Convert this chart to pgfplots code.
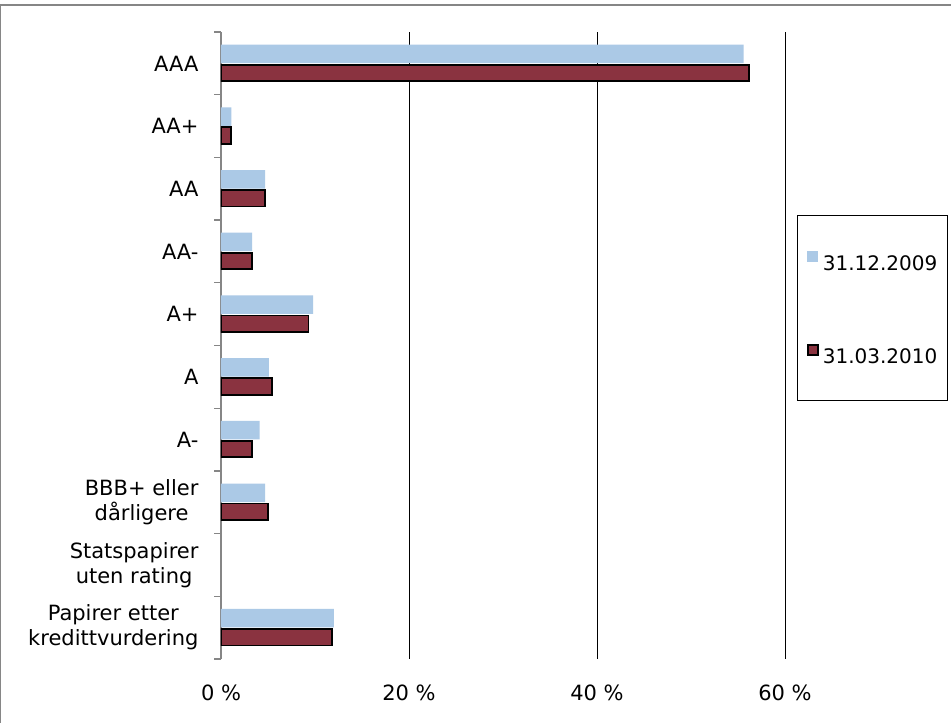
\documentclass[border=0pt]{standalone}
\usepackage{pgfplots}
\pgfplotsset{compat=1.18}
\usepackage{fontspec}
\setmainfont{DejaVu Sans}
\definecolor{lyseblaa}{HTML}{ABC9E6}
\definecolor{vinrod}{HTML}{8A3340}
\definecolor{rammegraa}{HTML}{868686}

\begin{document}
\begin{tikzpicture}
\path[use as bounding box] (0,0) rectangle (951pt,723pt);
\fill[white] (0,0) rectangle (951pt,723pt);
\draw[rammegraa, line width=1.3pt] (0.6pt,0) -- (0.6pt,718pt) -- (951pt,718pt);
\begin{axis}[
	at={(221pt,64pt)}, anchor=south west,
	scale only axis, width=564pt, height=627pt,
	xbar,
	xmin=0, xmax=60,
	ymin=-0.5, ymax=9.5, y dir=reverse,
	axis lines*=left,
	x axis line style={draw=none},
	y axis line style={draw=rammegraa, line width=1.3pt},
	/pgf/number format/assume math mode=true,
	xtick={0,20,40,60},
	xticklabel={\pgfmathprintnumber{\tick}~\%},
	xticklabel style={yshift=-22pt, font=\fontsize{21}{24}\selectfont},
	xmajorgrids,
	major x grid style={black, line width=0.8pt},
	ytick={0,...,9},
	yticklabels={AAA, AA+, AA, AA-, A+, A, A-, {BBB+ eller\\dårligere}, {Statspapirer\\uten rating}, {Papirer etter\\kredittvurdering}},
	yticklabel style={align=center, xshift=-19pt, font=\fontsize{21}{25}\selectfont},
	minor ytick={-0.5,0.5,...,9.5},
	major tick length=0pt,
	minor tick length=7pt,
	minor tick style={rammegraa, line width=1.3pt},
	tick align=outside,
	legend style={at={(1.0213,0.7081)}, anchor=north west, draw=black, line width=0.8pt,
		inner xsep=10pt, inner ysep=36pt, row sep=72pt, column sep=4pt,
		nodes={inner sep=0pt}, font=\fontsize{20}{24}\selectfont},
	legend cell align=left,
]
\addplot[fill=lyseblaa, draw=none, bar width=18.5pt, bar shift=9.5pt,
	legend image code/.code={\fill[lyseblaa] (0pt,1.8pt) rectangle (10.5pt,12.3pt);}]
	coordinates {(55.6,0) (1.1,1) (4.7,2) (3.3,3) (9.8,4) (5.1,5) (4.1,6) (4.7,7) (12.0,9)};
\addlegendentry{31.12.2009}
\addplot[fill=vinrod, draw=black, line width=1.8pt, bar width=16.5pt, bar shift=-9.5pt,
	legend image code/.code={\draw[fill=vinrod, draw=black, line width=1.8pt] (0.9pt,1.2pt) rectangle (10.5pt,11.8pt);}]
	coordinates {(56.2,0) (1.1,1) (4.7,2) (3.3,3) (9.3,4) (5.4,5) (3.3,6) (5.0,7) (11.8,9)};
\addlegendentry{31.03.2010}
\end{axis}
\end{tikzpicture}
\end{document}
